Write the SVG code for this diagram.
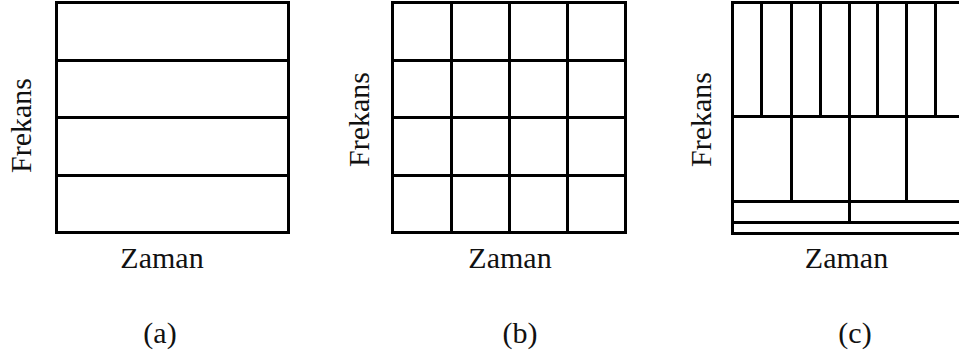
<svg xmlns="http://www.w3.org/2000/svg" width="959" height="357" viewBox="0 0 959 357">
<style>
.ln{stroke:#000;stroke-width:3;fill:none;stroke-linecap:square}
.t{font-family:'Liberation Serif','Times New Roman',serif;font-size:30px;fill:#111;text-anchor:middle}
</style>
<rect width="959" height="357" fill="#fff"/>
<g id="panel-a">
<rect class="ln" x="56.5" y="2.5" width="232" height="230"/>
<path class="ln" d="M56.5 60.5H288.5M56.5 117.5H288.5M56.5 175.5H288.5"/>
<text class="t" transform="translate(31,125.5) rotate(-90)">Frekans</text>
<text class="t" x="162" y="268">Zaman</text>
<text class="t" x="160" y="343">(a)</text>
</g>
<g id="panel-b">
<rect class="ln" x="392.5" y="2.5" width="233" height="230"/>
<path class="ln" d="M392.5 60.5H625.5M392.5 117.5H625.5M392.5 175.5H625.5M451.5 2.5V232.5M509.5 2.5V232.5M567.5 2.5V232.5"/>
<text class="t" transform="translate(369,119.5) rotate(-90)">Frekans</text>
<text class="t" x="510" y="268">Zaman</text>
<text class="t" x="520" y="343">(b)</text>
</g>
<g id="panel-c">
<rect class="ln" x="732.5" y="2.5" width="232" height="231"/>
<path class="ln" d="M732.5 116.5H970M732.5 201.5H970M732.5 222.5H970M761.5 2.5V116.5M791.5 2.5V201.5M820.5 2.5V116.5M849.5 2.5V222.5M877.5 2.5V116.5M906.5 2.5V201.5M935.5 2.5V116.5"/>
<text class="t" transform="translate(711,119.5) rotate(-90)">Frekans</text>
<text class="t" x="846.5" y="268">Zaman</text>
<text class="t" x="855" y="343">(c)</text>
</g>
</svg>
